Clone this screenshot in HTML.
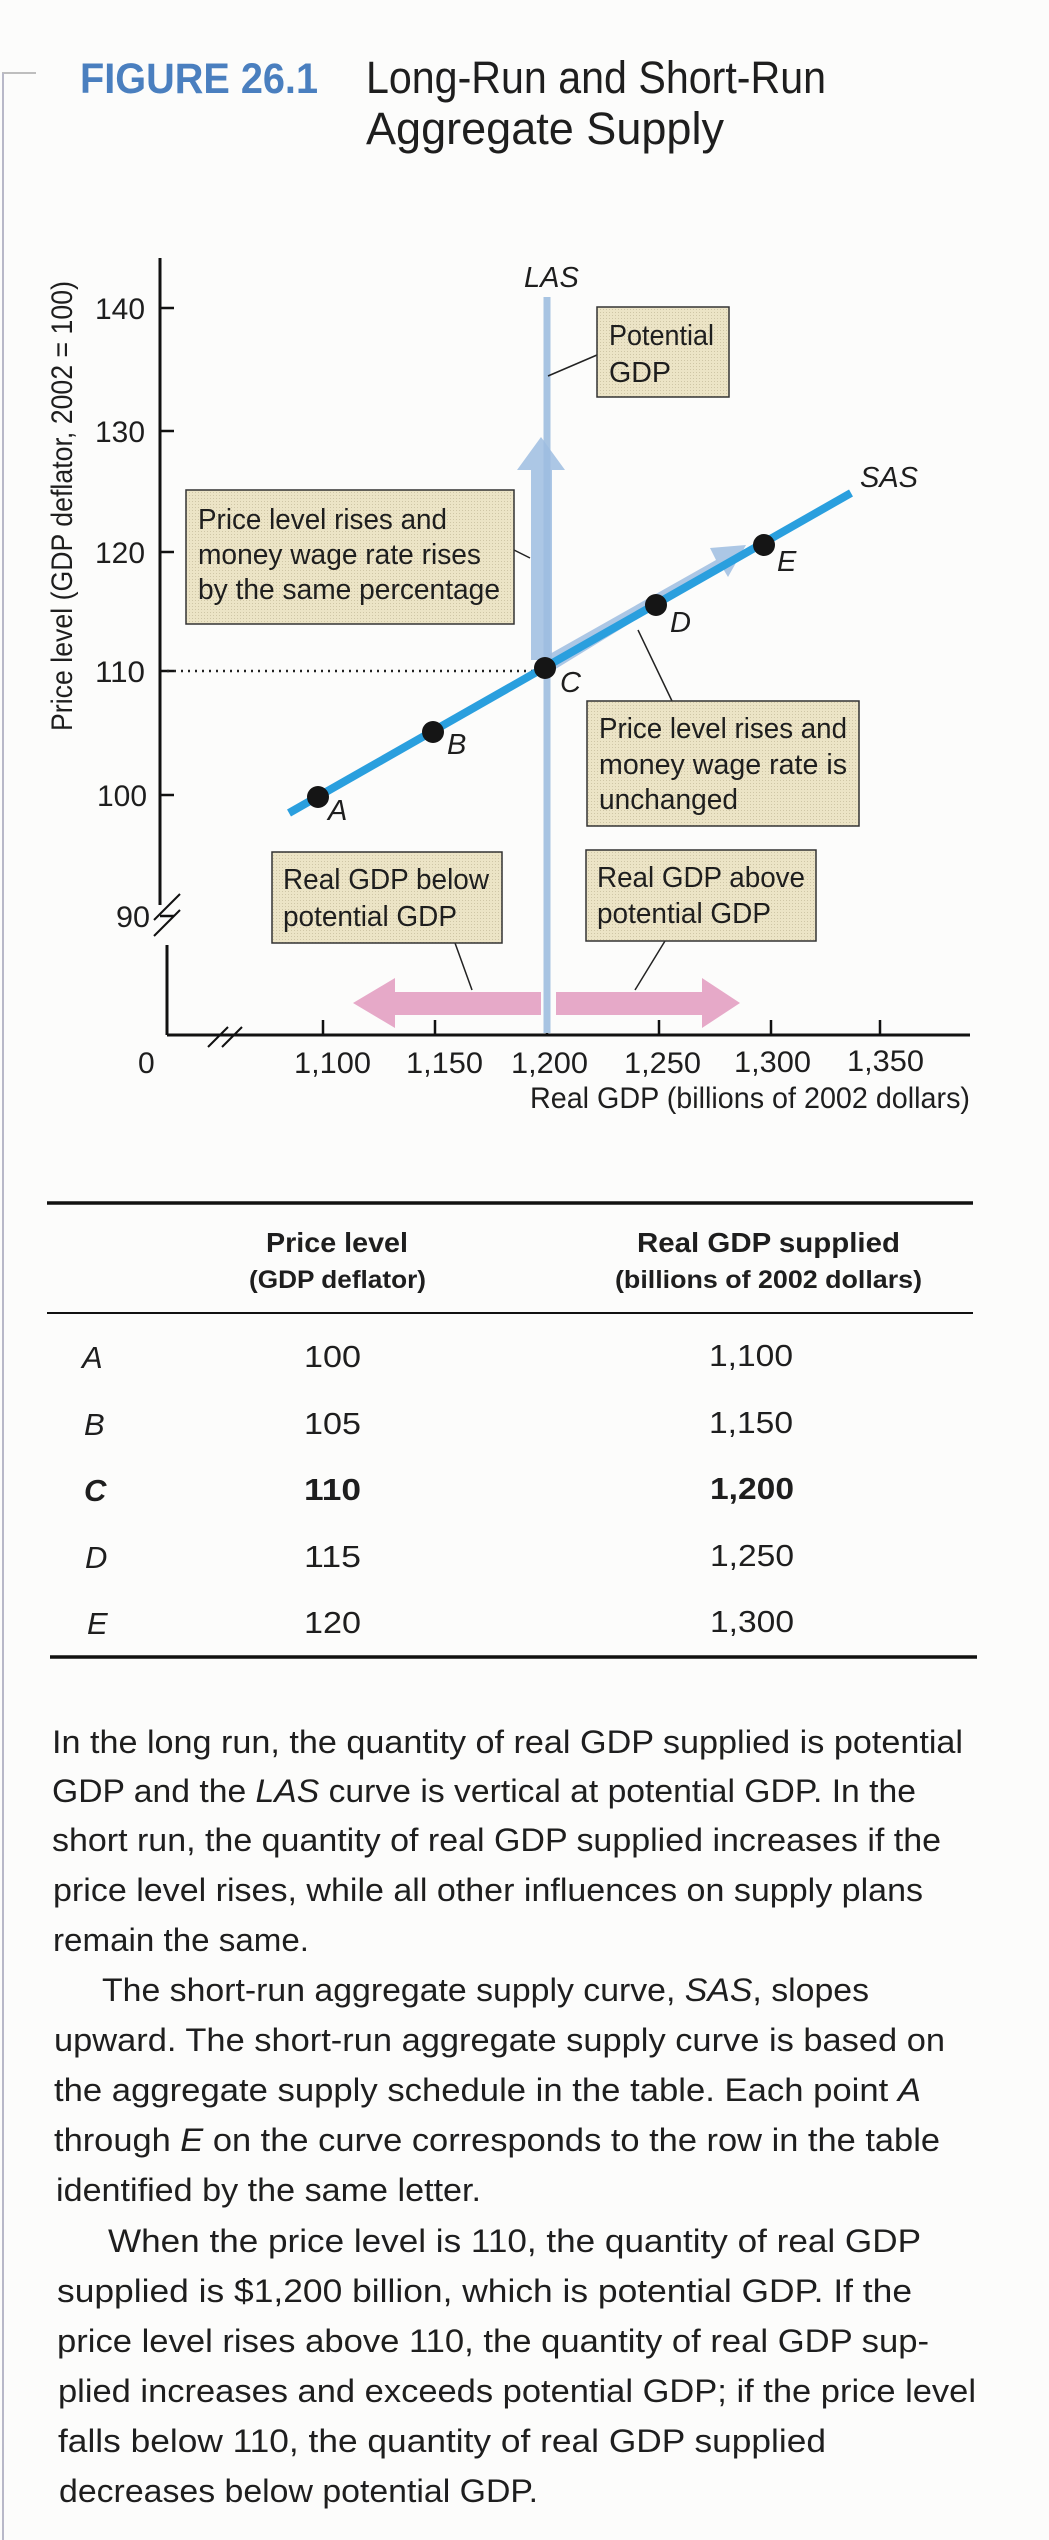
<!DOCTYPE html>
<html><head><meta charset="utf-8"><style>
html,body{margin:0;padding:0;background:#fcfcfb;}
svg{display:block;}
text{font-family:"Liberation Sans",sans-serif;fill:#1e1e1e;}
</style></head><body>
<svg width="1049" height="2540" viewBox="0 0 1049 2540" xmlns="http://www.w3.org/2000/svg">
<defs>
<pattern id="dot" width="3" height="3" patternUnits="userSpaceOnUse"><rect width="3" height="3" fill="#ece4c6"/><rect width="1" height="1" fill="#cfc6a6"/></pattern>
</defs>
<rect width="1049" height="2540" fill="#fcfcfb"/>
<line x1="2" y1="73" x2="36" y2="73" stroke="#aaa" stroke-width="1.5"/>
<line x1="3" y1="73" x2="3" y2="2540" stroke="#b8b8c8" stroke-width="2"/>
<text x="80" y="93" font-size="43" font-weight="bold" style="fill:#4a7fbf" textLength="238" lengthAdjust="spacingAndGlyphs">FIGURE 26.1</text>
<text x="366" y="93" font-size="45" textLength="460" lengthAdjust="spacingAndGlyphs">Long-Run and Short-Run</text>
<text x="366" y="144" font-size="45" textLength="358" lengthAdjust="spacingAndGlyphs">Aggregate Supply</text>

<text transform="translate(72,506) rotate(-90)" text-anchor="middle" font-size="30" textLength="450" lengthAdjust="spacingAndGlyphs">Price level (GDP deflator, 2002 = 100)</text>

<line x1="160" y1="258" x2="160" y2="905" stroke="#111" stroke-width="3"/>
<line x1="167" y1="945" x2="167" y2="1035" stroke="#111" stroke-width="3"/>
<line x1="154" y1="920" x2="180" y2="894" stroke="#111" stroke-width="2"/>
<line x1="154" y1="936" x2="180" y2="910" stroke="#111" stroke-width="2"/>
<line x1="167" y1="1035" x2="970" y2="1035" stroke="#111" stroke-width="3"/>
<line x1="208" y1="1047" x2="228" y2="1027" stroke="#111" stroke-width="2"/>
<line x1="222" y1="1047" x2="242" y2="1027" stroke="#111" stroke-width="2"/>
<g stroke="#111" stroke-width="2.5">
<line x1="160" y1="308" x2="174" y2="308"/><line x1="160" y1="431" x2="174" y2="431"/>
<line x1="160" y1="552" x2="174" y2="552"/><line x1="160" y1="671" x2="174" y2="671"/>
<line x1="160" y1="795" x2="174" y2="795"/><line x1="160" y1="916" x2="174" y2="916"/>
<line x1="323" y1="1020" x2="323" y2="1035"/><line x1="435" y1="1020" x2="435" y2="1035"/>
<line x1="547" y1="1020" x2="547" y2="1035"/><line x1="659" y1="1020" x2="659" y2="1035"/>
<line x1="771" y1="1020" x2="771" y2="1035"/><line x1="880" y1="1020" x2="880" y2="1035"/>
</g>
<g font-size="30" text-anchor="end">
<text x="145" y="319" textLength="50" lengthAdjust="spacingAndGlyphs">140</text>
<text x="145" y="442" textLength="50" lengthAdjust="spacingAndGlyphs">130</text>
<text x="145" y="563" textLength="50" lengthAdjust="spacingAndGlyphs">120</text>
<text x="145" y="682" textLength="50" lengthAdjust="spacingAndGlyphs">110</text>
<text x="147" y="806" textLength="50" lengthAdjust="spacingAndGlyphs">100</text>
<text x="150" y="927" textLength="34" lengthAdjust="spacingAndGlyphs">90</text>
</g>
<g font-size="30">
<text x="138" y="1073">0</text>
<text x="294" y="1073" textLength="77" lengthAdjust="spacingAndGlyphs">1,100</text>
<text x="406" y="1073" textLength="77" lengthAdjust="spacingAndGlyphs">1,150</text>
<text x="511" y="1073" textLength="77" lengthAdjust="spacingAndGlyphs">1,200</text>
<text x="624" y="1073" textLength="77" lengthAdjust="spacingAndGlyphs">1,250</text>
<text x="734" y="1072" textLength="77" lengthAdjust="spacingAndGlyphs">1,300</text>
<text x="847" y="1071" textLength="77" lengthAdjust="spacingAndGlyphs">1,350</text>
</g>
<text x="530" y="1108" font-size="30" textLength="440" lengthAdjust="spacingAndGlyphs">Real GDP (billions of 2002 dollars)</text>

<line x1="167" y1="671" x2="540" y2="671" stroke="#222" stroke-width="2.5" stroke-dasharray="2,5"/>

<line x1="547" y1="297" x2="547" y2="1033" stroke="#a8c4e2" stroke-width="7"/>
<polygon points="541,437 565,470 552,470 552,660 531,660 531,470 517,470" fill="#9dbde0" opacity="0.85"/>
<text x="524" y="287" font-size="29" font-style="italic">LAS</text>

<polygon points="353,1003 395,978 395,992 541,992 541,1015 395,1015 395,1028" fill="#e6a9c8"/>
<polygon points="740,1003 702,978 702,992 556,992 556,1015 702,1015 702,1028" fill="#e6a9c8"/>

<polygon points="548,655 716,560 710,548 746,545 728,577 722,567 554,670" fill="#9dbde0" opacity="0.85"/>

<line x1="289" y1="813" x2="851" y2="493" stroke="#2a9fde" stroke-width="8"/>
<text x="860" y="487" font-size="29" font-style="italic">SAS</text>

<g fill="#151515">
<circle cx="318" cy="797" r="11"/><circle cx="433" cy="732" r="11"/><circle cx="545" cy="668" r="11"/>
<circle cx="656" cy="605" r="11"/><circle cx="764" cy="545" r="11"/>
</g>
<g font-size="29" font-style="italic">
<text x="328" y="820">A</text><text x="447" y="754">B</text><text x="560" y="692">C</text>
<text x="670" y="632">D</text><text x="777" y="571">E</text>
</g>

<g stroke="#222" stroke-width="1.5">
<line x1="548" y1="376" x2="597" y2="355"/>
<line x1="514" y1="550" x2="530" y2="558"/>
<line x1="638" y1="630" x2="672" y2="701"/>
<line x1="455" y1="943" x2="472" y2="990"/>
<line x1="665" y1="941" x2="635" y2="990"/>
</g>

<g fill="url(#dot)" stroke="#333" stroke-width="1.5">
<rect x="597" y="307" width="132" height="90"/>
<rect x="186" y="490" width="328" height="134"/>
<rect x="587" y="701" width="272" height="125"/>
<rect x="272" y="852" width="230" height="91"/>
<rect x="586" y="850" width="230" height="91"/>
</g>
<g font-size="29">
<text x="609" y="345" textLength="105" lengthAdjust="spacingAndGlyphs">Potential</text>
<text x="609" y="382" textLength="62" lengthAdjust="spacingAndGlyphs">GDP</text>
<text x="198" y="529" textLength="249" lengthAdjust="spacingAndGlyphs">Price level rises and</text>
<text x="198" y="564" textLength="283" lengthAdjust="spacingAndGlyphs">money wage rate rises</text>
<text x="198" y="599" textLength="302" lengthAdjust="spacingAndGlyphs">by the same percentage</text>
<text x="599" y="738" textLength="248" lengthAdjust="spacingAndGlyphs">Price level rises and</text>
<text x="599" y="774" textLength="248" lengthAdjust="spacingAndGlyphs">money wage rate is</text>
<text x="599" y="809" textLength="139" lengthAdjust="spacingAndGlyphs">unchanged</text>
<text x="283" y="889" textLength="206" lengthAdjust="spacingAndGlyphs">Real GDP below</text>
<text x="283" y="926" textLength="174" lengthAdjust="spacingAndGlyphs">potential GDP</text>
<text x="597" y="887" textLength="208" lengthAdjust="spacingAndGlyphs">Real GDP above</text>
<text x="597" y="923" textLength="174" lengthAdjust="spacingAndGlyphs">potential GDP</text>
</g>

<line x1="47" y1="1203" x2="973" y2="1203" stroke="#111" stroke-width="3.5"/>
<line x1="47" y1="1313" x2="973" y2="1313" stroke="#111" stroke-width="2"/>
<line x1="50" y1="1657" x2="977" y2="1657" stroke="#111" stroke-width="3.5"/>
<g font-weight="bold">
<text x="266" y="1252" font-size="28" textLength="142" lengthAdjust="spacingAndGlyphs">Price level</text>
<text x="249" y="1288" font-size="25" textLength="177" lengthAdjust="spacingAndGlyphs">(GDP deflator)</text>
<text x="637" y="1252" font-size="28" textLength="263" lengthAdjust="spacingAndGlyphs">Real GDP supplied</text>
<text x="615" y="1288" font-size="25" textLength="307" lengthAdjust="spacingAndGlyphs">(billions of 2002 dollars)</text>
</g>
<g font-size="31">
<text x="82" y="1368" font-style="italic">A</text><text x="304" y="1367" textLength="57" lengthAdjust="spacingAndGlyphs">100</text><text x="709" y="1366" textLength="84" lengthAdjust="spacingAndGlyphs">1,100</text>
<text x="84" y="1435" font-style="italic">B</text><text x="304" y="1434" textLength="57" lengthAdjust="spacingAndGlyphs">105</text><text x="709" y="1433" textLength="84" lengthAdjust="spacingAndGlyphs">1,150</text>
<text x="84" y="1501" font-style="italic" font-weight="bold">C</text><text x="304" y="1500" font-weight="bold" textLength="57" lengthAdjust="spacingAndGlyphs">110</text><text x="710" y="1499" font-weight="bold" textLength="84" lengthAdjust="spacingAndGlyphs">1,200</text>
<text x="85" y="1568" font-style="italic">D</text><text x="304" y="1567" textLength="57" lengthAdjust="spacingAndGlyphs">115</text><text x="710" y="1566" textLength="84" lengthAdjust="spacingAndGlyphs">1,250</text>
<text x="87" y="1634" font-style="italic">E</text><text x="304" y="1633" textLength="57" lengthAdjust="spacingAndGlyphs">120</text><text x="710" y="1632" textLength="84" lengthAdjust="spacingAndGlyphs">1,300</text>
</g>

<g font-size="32">
<text x="52" y="1753" textLength="911" lengthAdjust="spacingAndGlyphs">In the long run, the quantity of real GDP supplied is potential</text>
<text x="52" y="1802" textLength="864" lengthAdjust="spacingAndGlyphs">GDP and the <tspan font-style="italic">LAS</tspan> curve is vertical at potential GDP. In the</text>
<text x="52" y="1851" textLength="889" lengthAdjust="spacingAndGlyphs">short run, the quantity of real GDP supplied increases if the</text>
<text x="53" y="1901" textLength="870" lengthAdjust="spacingAndGlyphs">price level rises, while all other influences on supply plans</text>
<text x="53" y="1951" textLength="256" lengthAdjust="spacingAndGlyphs">remain the same.</text>
<text x="102" y="2001" textLength="767" lengthAdjust="spacingAndGlyphs">The short-run aggregate supply curve, <tspan font-style="italic">SAS</tspan>, slopes</text>
<text x="54" y="2051" textLength="891" lengthAdjust="spacingAndGlyphs">upward. The short-run aggregate supply curve is based on</text>
<text x="54" y="2101" textLength="867" lengthAdjust="spacingAndGlyphs">the aggregate supply schedule in the table. Each point <tspan font-style="italic">A</tspan></text>
<text x="54" y="2151" textLength="886" lengthAdjust="spacingAndGlyphs">through <tspan font-style="italic">E</tspan> on the curve corresponds to the row in the table</text>
<text x="56" y="2201" textLength="425" lengthAdjust="spacingAndGlyphs">identified by the same letter.</text>
<text x="108" y="2252" textLength="813" lengthAdjust="spacingAndGlyphs">When the price level is 110, the quantity of real GDP</text>
<text x="57" y="2302" textLength="855" lengthAdjust="spacingAndGlyphs">supplied is $1,200 billion, which is potential GDP. If the</text>
<text x="57" y="2352" textLength="872" lengthAdjust="spacingAndGlyphs">price level rises above 110, the quantity of real GDP sup-</text>
<text x="58" y="2402" textLength="918" lengthAdjust="spacingAndGlyphs">plied increases and exceeds potential GDP; if the price level</text>
<text x="58" y="2452" textLength="768" lengthAdjust="spacingAndGlyphs">falls below 110, the quantity of real GDP supplied</text>
<text x="59" y="2502" textLength="479" lengthAdjust="spacingAndGlyphs">decreases below potential GDP.</text>
</g>
</svg>
</body></html>
